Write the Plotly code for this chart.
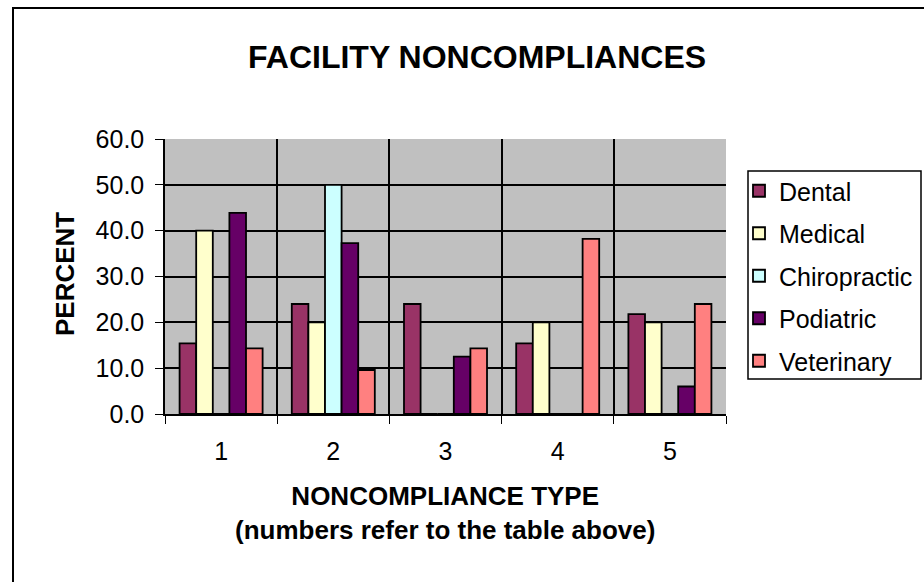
import plotly.graph_objects as go

categories = ["1", "2", "3", "4", "5"]
dental = [15.4, 24.0, 24.0, 15.4, 21.8]
medical = [40.0, 20.0, 0, 20.0, 20.0]
chiropractic = [0, 50.0, 0, 0, 0]
podiatric = [43.9, 37.3, 12.5, 0, 6.0]
veterinary = [14.3, 9.6, 14.3, 38.2, 24.0]

series = [
    ("Dental", dental, "#993366"),
    ("Medical", medical, "#FFFFCC"),
    ("Chiropractic", chiropractic, "#CCFFFF"),
    ("Podiatric", podiatric, "#660066"),
    ("Veterinary", veterinary, "#FF8080"),
]

W, H = 924, 582
L, R, T, B = 165, 726, 139, 414
PW, PH = R - L, B - T


def px(x):
    return (x - L) / PW


def py(y):
    return (B - y) / PH


fig = go.Figure()
for i, (name, vals, col) in enumerate(series):
    fig.add_trace(go.Bar(
        x=categories, y=vals, name=name, legendgroup=f"g{i}",
        marker=dict(color=col, line=dict(color="black", width=1.8)),
    ))

font = "Liberation Sans, Arial, sans-serif"
fig.update_layout(
    width=W, height=H,
    margin=dict(l=L, r=W - R, t=T, b=H - B, pad=0, autoexpand=False),
    paper_bgcolor="white", plot_bgcolor="#C0C0C0",
    barmode="group", bargap=0.26, bargroupgap=0,
    font=dict(family=font, size=24, color="black"),
    showlegend=True,
    legend=dict(
        x=px(739), y=py(168), xanchor="left", yanchor="top",
        borderwidth=0, bgcolor="rgba(0,0,0,0)",
        font=dict(size=25, family=font), tracegroupgap=7,
        itemwidth=30,
    ),
    xaxis=dict(
        type="category", tickson="boundaries", ticks="outside", ticklen=8,
        tickcolor="black", showgrid=True, gridcolor="black", gridwidth=1.5,
        showline=True, linecolor="black", linewidth=1.5,
        tickfont=dict(size=25), ticklabelstandoff=14,
    ),
    yaxis=dict(
        range=[0, 60], dtick=10, tickformat=".1f", ticks="outside", ticklen=8,
        tickcolor="black", showgrid=True, gridcolor="black", gridwidth=1.5,
        showline=True, linecolor="black", linewidth=1.5, zeroline=False,
        tickfont=dict(size=25), ticklabelstandoff=6,
    ),
    annotations=[
        dict(text="<b>FACILITY NONCOMPLIANCES</b>", xref="paper", yref="paper",
             x=px(477), y=py(57), xanchor="center", yanchor="middle",
             showarrow=False, font=dict(size=32)),
        dict(text="<b>NONCOMPLIANCE TYPE<br>(numbers refer to the table above)</b>",
             xref="paper", yref="paper", x=px(445), y=py(513),
             xanchor="center", yanchor="middle", showarrow=False,
             font=dict(size=26)),
        dict(text="<b>PERCENT</b>", xref="paper", yref="paper",
             x=px(65), y=py(274), xanchor="center", yanchor="middle",
             textangle=-90, showarrow=False, font=dict(size=26)),
    ],
)

# legend box
fig.add_shape(type="rect", xref="paper", yref="paper",
              x0=px(748), x1=px(921), y0=py(379), y1=py(171),
              line=dict(color="black", width=1.5), fillcolor="rgba(0,0,0,0)")
# outer chart border
fig.add_shape(type="rect", xref="paper", yref="paper",
              x0=px(13), x1=px(960), y0=py(620), y1=py(8),
              line=dict(color="black", width=2), layer="below")

fig.write_html(
    "out.html",
    config={"displayModeBar": False},
    post_script="document.body.style.margin='0';document.body.style.overflow='hidden';",
)
